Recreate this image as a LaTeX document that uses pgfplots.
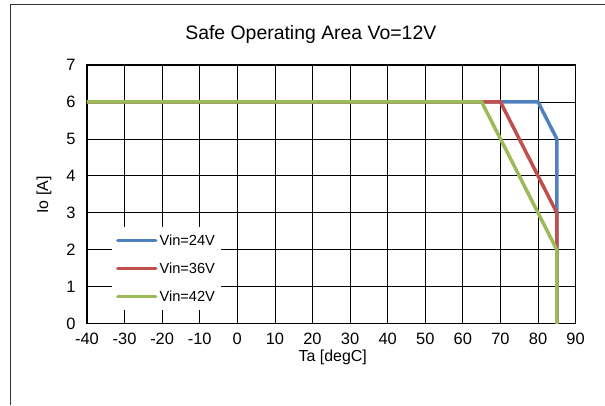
\documentclass[border=0pt]{standalone}
\usepackage{pgfplots}
\pgfplotsset{compat=1.18}
\usepackage{fontspec}
\setmainfont{Liberation Sans}
\definecolor{xlblue}{HTML}{4F81BD}
\definecolor{xlred}{HTML}{C0504D}
\definecolor{xlgreen}{HTML}{9BBB59}
\begin{document}
\begin{tikzpicture}[x=1bp,y=1bp]
\path (0,0) rectangle (605,405);
\draw[black!80, line width=0.8bp] (10,0) -- (10,401) -- (605,401);
\node[font=\fontsize{19.5}{22}\selectfont] at (311,370) {Safe Operating Area Vo=12V};
\node[font=\fontsize{16}{18}\selectfont, rotate=90] at (44,210) {Io [A]};
\node[font=\fontsize{16}{18}\selectfont] at (333,47) {Ta [degC]};
\begin{axis}[
  at={(87bp,81bp)}, anchor=south west,
  scale only axis, width=489bp, height=259bp,
  xmin=-40, xmax=90, ymin=0, ymax=7,
  xtick={-40,-30,...,90}, ytick={0,1,...,7},
  grid=major,
  major grid style={black, line width=0.8bp},
  axis line style={black, line width=1.3bp},
  major tick length=0pt,
  tick label style={font=\fontsize{16.5}{18}\selectfont},
  /pgf/number format/assume math mode=true,
  xticklabel style={yshift=-6bp},
  yticklabel style={xshift=-8bp},
  legend style={at={(0.051,0.373)}, anchor=north west, draw=none, fill=white,
    font=\fontsize{14.7}{16}\selectfont, inner xsep=4bp, inner ysep=5bp,
    row sep=12bp},
  legend cell align=left,
  legend image code/.code={\draw[#1, line width=3.5bp, line cap=round] (0bp,0bp) -- (38bp,0bp);},
  clip=false,
]
\draw[black, line width=1.6bp] (axis cs:0,0) -- (axis cs:0,7);
\addplot[xlblue, line width=3.5bp] coordinates {(-40,6) (80,6) (85,5) (85,0)};
\addlegendentry{Vin=24V}
\addplot[xlred, line width=3.5bp] coordinates {(-40,6) (70,6) (85,3) (85,0)};
\addlegendentry{Vin=36V}
\addplot[xlgreen, line width=3.5bp] coordinates {(-40,6) (65,6) (85,2) (85,0)};
\addlegendentry{Vin=42V}
\end{axis}
\end{tikzpicture}
\end{document}
